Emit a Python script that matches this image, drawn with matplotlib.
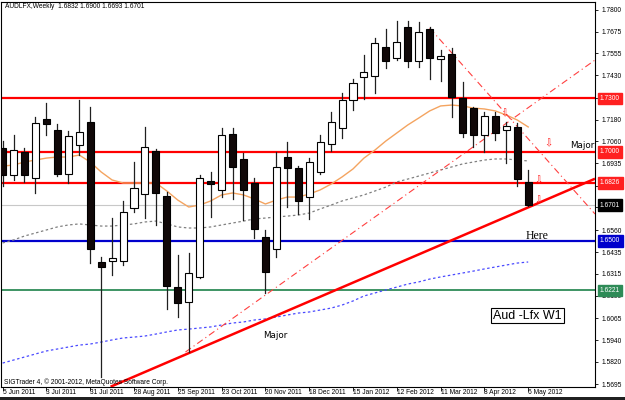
import matplotlib
matplotlib.use("Agg")
import matplotlib.pyplot as plt
import matplotlib.transforms as mtransforms
from matplotlib.patches import Rectangle

# ---------------- data ----------------
opens = [1.7023, 1.6872, 1.7001, 1.6855, 1.7187, 1.7125, 1.6877, 1.7040, 1.7170, 1.6382,
         1.6388, 1.6388, 1.6686, 1.6765, 1.7007, 1.6753, 1.6241, 1.6157, 1.6298, 1.6838,
         1.6787, 1.7102, 1.6962, 1.6827, 1.6523, 1.6455, 1.6973, 1.6911, 1.6748, 1.6888,
         1.7046, 1.7136, 1.7294, 1.7423, 1.7429, 1.7592, 1.7530, 1.7704, 1.7513, 1.7693,
         1.7524, 1.7552, 1.7305, 1.7249, 1.7097, 1.7204, 1.7125, 1.7142, 1.6832]
highs = [1.7060, 1.7097, 1.7020, 1.7198, 1.7277, 1.7159, 1.7119, 1.7294, 1.7254, 1.6410,
         1.6630, 1.6725, 1.6945, 1.7142, 1.7015, 1.6776, 1.6421, 1.6433, 1.6872, 1.6888,
         1.7136, 1.7136, 1.6995, 1.6855, 1.6562, 1.7001, 1.7057, 1.6922, 1.6967, 1.7097,
         1.7226, 1.7333, 1.7412, 1.7547, 1.7642, 1.7693, 1.7738, 1.7738, 1.7727, 1.7699,
         1.7575, 1.7581, 1.7395, 1.7254, 1.7226, 1.7226, 1.7170, 1.7164, 1.6900]
lows = [1.6810, 1.6843, 1.6832, 1.6770, 1.7097, 1.6866, 1.6827, 1.6984, 1.6376, 1.5735,
        1.6309, 1.6365, 1.6663, 1.6630, 1.6590, 1.6118, 1.6073, 1.5876, 1.6292, 1.6635,
        1.6748, 1.6737, 1.6618, 1.6517, 1.6208, 1.6410, 1.6691, 1.6652, 1.6624, 1.6877,
        1.7007, 1.7080, 1.7237, 1.7299, 1.7333, 1.7474, 1.7519, 1.7479, 1.7479, 1.7412,
        1.7401, 1.7198, 1.7085, 1.7029, 1.7001, 1.7068, 1.6939, 1.6810, 1.6693]
closes = [1.6872, 1.7012, 1.6872, 1.7164, 1.7159, 1.6877, 1.7091, 1.7113, 1.6455, 1.6354,
          1.6404, 1.6663, 1.6798, 1.7029, 1.6770, 1.6247, 1.6151, 1.6320, 1.6855, 1.6821,
          1.7097, 1.6917, 1.6787, 1.6568, 1.6326, 1.6917, 1.6911, 1.6725, 1.6945, 1.7057,
          1.7170, 1.7294, 1.7389, 1.7451, 1.7614, 1.7513, 1.7620, 1.7513, 1.7676, 1.7530,
          1.7541, 1.7310, 1.7108, 1.7097, 1.7204, 1.7108, 1.7147, 1.6849, 1.6701]

ma_fast = [1.6920, 1.6926, 1.6943, 1.6954, 1.6965, 1.6971, 1.6971, 1.6982, 1.6943, 1.6887,
           1.6842, 1.6825, 1.6825, 1.6825, 1.6825, 1.6780, 1.6729, 1.6690, 1.6701, 1.6724,
           1.6758, 1.6769, 1.6758, 1.6735, 1.6707, 1.6729, 1.6746, 1.6746, 1.6763, 1.6786,
           1.6819, 1.6859, 1.6904, 1.6965, 1.7010, 1.7061, 1.7106, 1.7151, 1.7190, 1.7230,
           1.7258, 1.7263, 1.7258, 1.7246, 1.7241, 1.7230, 1.7207, 1.7179, 1.7140]
ma_mid = [1.6488, 1.6505, 1.6527, 1.6544, 1.6561, 1.6578, 1.6589, 1.6595, 1.6589, 1.6583,
          1.6583, 1.6589, 1.6595, 1.6606, 1.6611, 1.6595, 1.6578, 1.6572, 1.6572, 1.6578,
          1.6589, 1.6600, 1.6611, 1.6623, 1.6628, 1.6634, 1.6639, 1.6645, 1.6656, 1.6679,
          1.6701, 1.6724, 1.6741, 1.6758, 1.6780, 1.6802, 1.6831, 1.6847, 1.6864, 1.6881,
          1.6898, 1.6915, 1.6932, 1.6943, 1.6954, 1.6960, 1.6960, 1.6954, 1.6949]
ma_slow = [1.5813, 1.5830, 1.5847, 1.5864, 1.5881, 1.5892, 1.5903, 1.5914, 1.5920, 1.5931,
           1.5943, 1.5954, 1.5959, 1.5965, 1.5976, 1.5988, 1.5999, 1.6004, 1.6010, 1.6016,
           1.6027, 1.6038, 1.6044, 1.6055, 1.6061, 1.6072, 1.6083, 1.6094, 1.6100, 1.6111,
           1.6122, 1.6139, 1.6162, 1.6190, 1.6207, 1.6224, 1.6240, 1.6257, 1.6269, 1.6285,
           1.6297, 1.6308, 1.6319, 1.6330, 1.6342, 1.6353, 1.6364, 1.6375, 1.6381]

date_idx = [0, 4, 8, 12, 16, 20, 24, 28, 32, 36, 40, 44, 48]
date_labels = ["5 Jun 2011", "3 Jul 2011", "31 Jul 2011", "28 Aug 2011", "25 Sep 2011",
               "23 Oct 2011", "20 Nov 2011", "18 Dec 2011", "15 Jan 2012", "12 Feb 2012",
               "11 Mar 2012", "8 Apr 2012", "6 May 2012"]

price_ticks = [1.7800, 1.7675, 1.7555, 1.7430, 1.7305, 1.7180, 1.7060, 1.6935, 1.6810,
               1.6690, 1.6560, 1.6435, 1.6315, 1.6190, 1.6065, 1.5940, 1.5820, 1.5695]
hidden_ticks = [1.7305, 1.6810, 1.6690]   # covered by the level boxes

levels = [1.7300, 1.7000, 1.6826, 1.6701, 1.6500, 1.6221]
level_labels = ["1.7300", "1.7000", "1.6826", "1.6701", "1.6500", "1.6221"]
level_colors = ["#ff0000", "#ff0000", "#ff0000", "#c8c8c8", "#0000cc", "#2e8b57"]
level_box_colors = ["#ff2020", "#ff2020", "#ff2020", "#000000", "#0000cc", "#2e8b57"]
level_widths = [1.6, 1.6, 1.6, 0.8, 1.6, 1.3]

trend_solid_x = [9.86, 54.1]
trend_solid_y = [1.5680, 1.6849]
trend_up_x = [16.7, 54.1]
trend_up_y = [1.5875, 1.7516]
trend_down_x = [39.0, 54.1]
trend_down_y = [1.7696, 1.6651]

arrow_x = [45.8, 49.8, 48.9, 48.9]
arrow_y = [1.7218, 1.7050, 1.6842, 1.6729]

# ---------------- figure ----------------
W, H = 625, 400
SMALL = dict(family="Liberation Sans", fontsize=4.8)
fig = plt.figure(figsize=(W / 100, H / 100), dpi=100)
fig.patch.set_facecolor("white")
left_px, right_px, top_px, bot_px = 1.5, 595.0, 2.0, 386.5
ax = fig.add_axes([left_px / W, (H - bot_px) / H, (right_px - left_px) / W, (bot_px - top_px) / H])
ax.set_xlim(-0.1, 54.1)
ax.set_ylim(1.56813, 1.78422)
for s in ax.spines.values():
    s.set_color("black")
    s.set_linewidth(0.8)

# levels
for lv, c, lw in zip(levels, level_colors, level_widths):
    ax.axhline(lv, color=c, lw=lw, zorder=1)

# moving averages
xs = list(range(len(closes)))
ax.plot(xs, ma_fast, color="#f4a460", lw=1.0, zorder=2)
ax.plot(xs, ma_mid, color="#808080", lw=0.9, ls=(0, (2, 2)), zorder=2)
ax.plot(xs, ma_slow, color="#4a4aff", lw=0.9, ls=(0, (2, 2)), zorder=2)

# trend lines
ax.plot(trend_solid_x, trend_solid_y, color="#ff0000", lw=1.8, zorder=3, solid_capstyle="butt")
ax.plot(trend_up_x, trend_up_y, color="#ff4040", lw=0.8, ls=(0, (6, 3, 1, 3)), zorder=3)
ax.plot(trend_down_x, trend_down_y, color="#ff4040", lw=0.8, ls=(0, (6, 3, 1, 3)), zorder=3)

# candles
bw = 0.64
for i, (o, h, l, c) in enumerate(zip(opens, highs, lows, closes)):
    ax.plot([i, i], [l, h], color="#202020", lw=0.9, zorder=4)
    bull = c >= o
    lo, hi = min(o, c), max(o, c)
    ax.add_patch(Rectangle((i - bw / 2, lo), bw, max(hi - lo, 0.0004),
                           facecolor="white" if bull else "#100808",
                           edgecolor="black", lw=0.8, zorder=5))

# arrows
for xa, ya in zip(arrow_x, arrow_y):
    ax.text(xa, ya, "\u21e9", color="#ff2020", fontsize=7, ha="center", va="center", zorder=6)

# annotations
ax.text(51.8, 1.7033, "Major", fontsize=6.3, ha="left", va="center", color="black", zorder=6)
ax.text(23.8, 1.5968, "Major", fontsize=6.3, ha="left", va="center", color="black", zorder=6)
ax.text(47.8, 1.6527, "Here", fontsize=8.5, family="Liberation Serif", ha="left", va="center", zorder=6)
ax.text(47.95, 1.6080, "Aud -Lfx W1", fontsize=9, family="Liberation Sans", ha="center", va="center",
        zorder=7, bbox=dict(boxstyle="square,pad=0.15", fc="white", ec="black", lw=0.8))

# y axis on right
ax.yaxis.tick_right()
ax.set_yticks(price_ticks)
ax.set_yticklabels(["" if p in hidden_ticks else f"{p:.4f}" for p in price_ticks], **SMALL)
ax.tick_params(axis="y", length=2.5, width=0.6, pad=2.5, colors="black")

# level boxes on the axis
trans = mtransforms.blended_transform_factory(ax.transAxes, ax.transData)
for lv, lab, bc in zip(levels, level_labels, level_box_colors):
    ax.text(1.0 + 5 / (right_px - left_px), lv, lab, transform=trans, color="white",
            ha="left", va="center", zorder=10, clip_on=False,
            bbox=dict(boxstyle="square,pad=0.35", fc=bc, ec=bc), **SMALL)

# x axis dates
ax.set_xticks(date_idx)
ax.set_xticklabels(date_labels, ha="left", **SMALL)
ax.tick_params(axis="x", length=3, width=0.6, pad=-1.2, direction="out")

# header / footer texts
fig.text(5 / W, 1 - 3.5 / H, "AUDLFX,Weekly  1.6832 1.6900 1.6693 1.6701",
         ha="left", va="top", **SMALL)
fig.text(4 / W, 1 - 382.5 / H, "SIGTrader 4, \u00a9 2001-2012, MetaQuotes Software Corp.",
         ha="left", va="center", zorder=10, **SMALL)

# bottom dark strip
fig.patches.append(Rectangle((0, 0), 1, 3.5 / H, transform=fig.transFigure,
                             facecolor="#202020", edgecolor="none"))

fig.savefig("out.png", dpi=100, facecolor="white")
